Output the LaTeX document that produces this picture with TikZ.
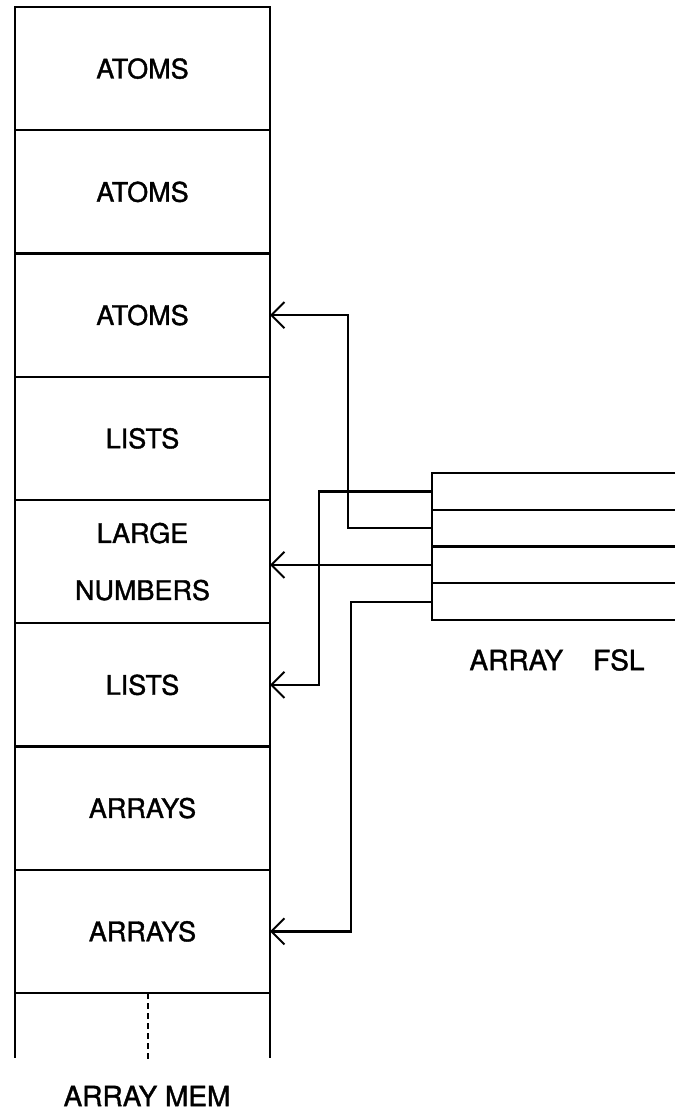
\documentclass[tikz,border=0pt]{standalone}
\usepackage{fontspec}
\setmainfont[UprightFeatures={FakeBold=1.3}]{TeX Gyre Heros}
\usetikzlibrary{arrows.meta}
\begin{document}
\begin{tikzpicture}[x=1pt,y=-1pt,
  cell/.style={draw,line width=2pt,minimum width=255pt,minimum height=123.25pt,inner sep=0pt,outer sep=0pt,
    font=\fontsize{27}{57}\selectfont,align=center},
  fcell/.style={minimum width=243pt,minimum height=36.75pt,inner sep=0pt,outer sep=0pt},
  conn/.style={line width=2.2pt},
  arr/.style={conn,-{Straight Barb[length=13pt,width=26pt,line width=2pt]}},
  lbl/.style={font=\fontsize{28}{32}\selectfont}]
\useasboundingbox (0,0) rectangle (675,1115);
% ARRAY MEM column
\node[cell] (r0) at (142.5,68.6) {ATOMS};
\node[cell] (r1) at (142.5,191.9) {ATOMS};
\node[cell] (r2) at (142.5,315.1) {ATOMS};
\node[cell] (r3) at (142.5,438.4) {LISTS};
\node[cell] (r4) at (142.5,561.6) {LARGE\\NUMBERS};
\node[cell] (r5) at (142.5,684.9) {LISTS};
\node[cell] (r6) at (142.5,808.1) {ARRAYS};
\node[cell] (r7) at (142.5,931.4) {ARRAYS};
\draw[line width=2pt] (r7.south west) -- ++(0,65);
\draw[line width=2pt] (r7.south east) -- ++(0,65);
\draw[line width=2pt,dash pattern=on 6pt off 4pt] ([xshift=5pt]r7.south) -- ++(0,68);
\node[lbl] (mem) at (147,1096) {ARRAY MEM};
% ARRAY FSL
\node[fcell] (f1) at (553.5,491.4) {};
\node[fcell] (f2) at (553.5,528.1) {};
\node[fcell] (f3) at (553.5,564.9) {};
\node[fcell] (f4) at (553.5,601.6) {};
\draw[line width=2.2pt] (f1.north east) -- (f1.north west) -- (f4.south west) -- (f4.south east);
\draw[line width=2.2pt] (f1.south west) -- (f1.south east);
\draw[line width=2.2pt] (f2.south west) -- (f2.south east);
\draw[line width=2.2pt] (f3.south west) -- (f3.south east);
\node[lbl] (fsl) at (557,660) {ARRAY\hspace{30pt}FSL};
% connectors
\draw[arr] (f2.west) -- ++(-84,0) |- (r2.east);
\draw[arr] (f1.west) -- ++(-113,0) |- (r5.east);
\draw[arr] (f3.west) -- (f3.west -| r4.east);
\draw[arr] (f4.west) -- ++(-81,0) |- (r7.east);
\end{tikzpicture}
\end{document}
